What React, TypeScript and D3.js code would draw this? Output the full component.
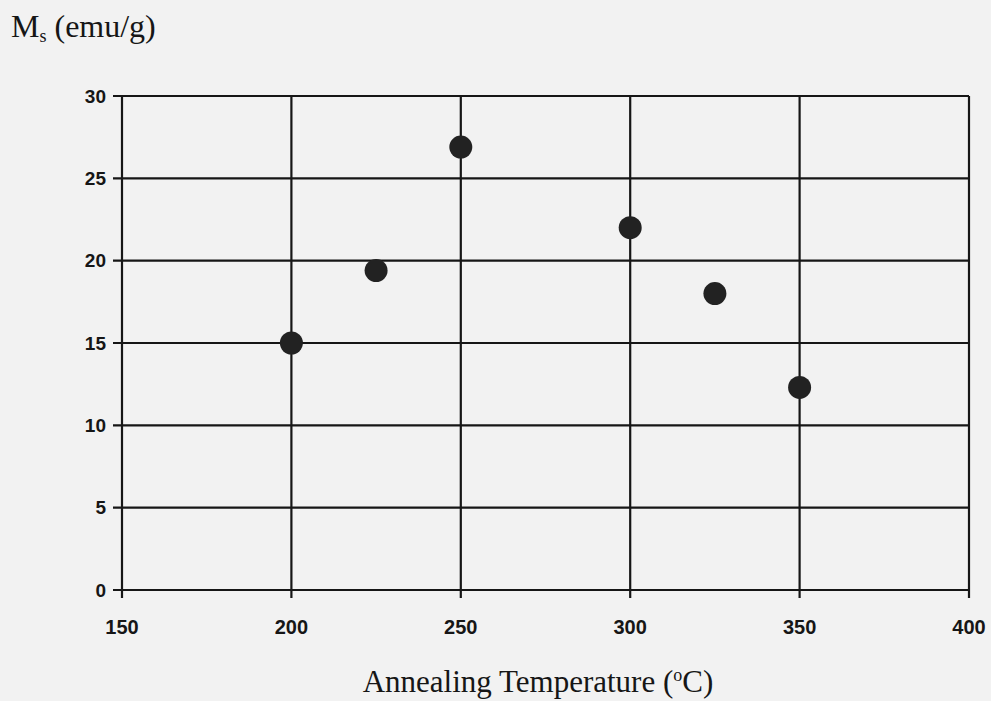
import React from "react";
import * as d3 from "d3";

const temperatures = [200, 225, 250, 300, 325, 350];
const msValues = [15.0, 19.4, 26.9, 22.0, 18.0, 12.3];
const xTicks = [150, 200, 250, 300, 350, 400];
const yTicks = [0, 5, 10, 15, 20, 25, 30];

const W = 991;
const H = 701;
const M = { left: 122, right: 969, top: 96, bottom: 590 };

export default function App() {
  const x = d3.scaleLinear().domain([150, 400]).range([M.left, M.right]);
  const y = d3.scaleLinear().domain([0, 30]).range([M.bottom, M.top]);
  const ink = "#161616";
  return (
    <div style={{ position: "absolute", left: 0, top: 0 }}>
      <svg width={W} height={H} style={{ display: "block" }}>
        <rect x={0} y={0} width={W} height={H} fill="#f2f2f2" />
        {yTicks.map((t) => (
          <line key={"h" + t} x1={M.left - 9} x2={M.right} y1={y(t)} y2={y(t)} stroke={ink} strokeWidth={2.2} />
        ))}
        {xTicks.map((t) => (
          <line key={"v" + t} x1={x(t)} x2={x(t)} y1={M.top} y2={M.bottom + 8} stroke={ink} strokeWidth={2.2} />
        ))}
        {yTicks.map((t) => (
          <text key={"yl" + t} x={M.left - 16} y={y(t)} dy="0.35em" textAnchor="end"
            fontFamily="Liberation Sans, Arial, sans-serif" fontWeight="bold" fontSize={19} fill={ink}>
            {t}
          </text>
        ))}
        {xTicks.map((t) => (
          <text key={"xl" + t} x={x(t)} y={M.bottom + 44} textAnchor="middle"
            fontFamily="Liberation Sans, Arial, sans-serif" fontWeight="bold" fontSize={20} fill={ink}>
            {t}
          </text>
        ))}
        {temperatures.map((t, i) => (
          <circle key={"p" + i} cx={x(t)} cy={y(msValues[i])} r={11.5} fill="#222" />
        ))}
        <text x={11} y={37} fontFamily="Liberation Serif, Times New Roman, serif" fontSize={32} fill={ink}>
          M<tspan fontSize={18} dy={5}>s</tspan><tspan dy={-5}> (emu/g)</tspan>
        </text>
        <text x={538} y={692} textAnchor="middle" fontFamily="Liberation Serif, Times New Roman, serif" fontSize={31} fill={ink}>
          Annealing Temperature (<tspan fontSize={18} dy={-11}>o</tspan><tspan dy={11}>C)</tspan>
        </text>
      </svg>
    </div>
  );
}
